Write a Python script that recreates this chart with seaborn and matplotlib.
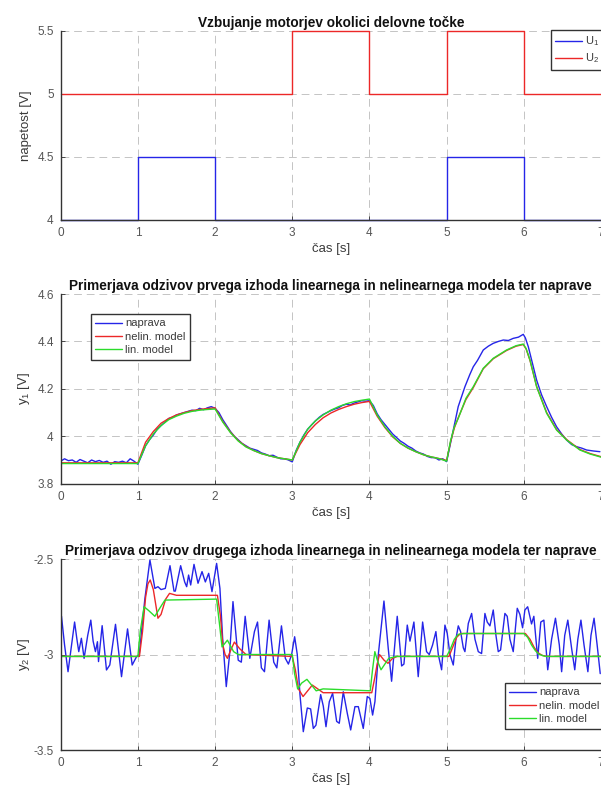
import matplotlib
matplotlib.use("Agg")
import matplotlib.pyplot as plt
import seaborn as sns

# --- data ---
# vhodni napetosti (step signals)
t_u = [0, 1, 1, 2, 2, 3, 3, 4, 4, 5, 5, 6, 6, 7]
u1 = [4, 4, 4.5, 4.5, 4, 4, 4, 4, 4, 4, 4.5, 4.5, 4, 4]
u2 = [5, 5, 5, 5, 5, 5, 5.5, 5.5, 5, 5, 5.5, 5.5, 5, 5]

# izhod y1
y1_naprava = [(0.00, 3.895), (0.05, 3.905), (0.10, 3.897), (0.15, 3.90), (0.20, 3.89), (0.25, 3.902),
              (0.30, 3.895), (0.35, 3.888), (0.40, 3.90), (0.45, 3.893), (0.50, 3.898), (0.55, 3.89),
              (0.60, 3.895), (0.65, 3.882), (0.70, 3.893), (0.75, 3.89), (0.80, 3.895), (0.85, 3.888),
              (0.90, 3.905), (0.95, 3.895), (1.00, 3.882), (1.05, 3.92), (1.10, 3.96), (1.15, 3.985),
              (1.20, 4.005), (1.25, 4.03), (1.30, 4.045), (1.35, 4.06), (1.40, 4.075), (1.45, 4.08),
              (1.50, 4.09), (1.55, 4.095), (1.60, 4.10), (1.65, 4.105), (1.70, 4.11), (1.75, 4.108),
              (1.80, 4.118), (1.85, 4.112), (1.90, 4.12), (1.95, 4.125), (2.00, 4.118), (2.05, 4.10),
              (2.10, 4.07), (2.15, 4.045), (2.20, 4.02), (2.25, 4.00), (2.30, 3.985), (2.35, 3.97),
              (2.40, 3.96), (2.45, 3.95), (2.50, 3.945), (2.55, 3.94), (2.60, 3.93), (2.65, 3.925),
              (2.70, 3.918), (2.75, 3.92), (2.80, 3.912), (2.85, 3.905), (2.90, 3.905), (2.95, 3.90),
              (3.00, 3.892), (3.05, 3.94), (3.10, 3.975), (3.15, 4.005), (3.20, 4.03), (3.25, 4.048),
              (3.30, 4.065), (3.35, 4.08), (3.40, 4.092), (3.45, 4.10), (3.50, 4.108), (3.55, 4.115),
              (3.60, 4.12), (3.65, 4.13), (3.70, 4.135), (3.75, 4.132), (3.80, 4.14), (3.85, 4.145),
              (3.90, 4.15), (3.95, 4.148), (4.00, 4.15), (4.05, 4.13), (4.10, 4.095), (4.15, 4.07),
              (4.20, 4.05), (4.25, 4.03), (4.30, 4.01), (4.35, 3.995), (4.40, 3.98), (4.45, 3.97),
              (4.50, 3.958), (4.55, 3.95), (4.60, 3.938), (4.65, 3.93), (4.70, 3.925), (4.75, 3.915),
              (4.80, 3.91), (4.85, 3.91), (4.90, 3.90), (4.95, 3.905), (5.00, 3.893), (5.05, 3.97),
              (5.086, 4.026), (5.15, 4.125), (5.237, 4.209), (5.30, 4.26), (5.345, 4.293), (5.40, 4.32),
              (5.475, 4.364), (5.54, 4.38), (5.604, 4.392), (5.67, 4.40), (5.734, 4.406), (5.80, 4.404),
              (5.863, 4.413), (5.93, 4.418), (5.993, 4.43), (6.02, 4.415), (6.058, 4.378), (6.11, 4.31),
              (6.166, 4.237), (6.23, 4.175), (6.296, 4.125), (6.36, 4.08), (6.425, 4.04), (6.49, 4.01),
              (6.555, 3.984), (6.62, 3.965), (6.684, 3.956), (6.75, 3.95), (6.814, 3.942), (6.90, 3.938),
              (6.986, 3.935)]
y1_nelin = [(0.0, 3.888), (1.0, 3.888), (1.1, 3.975), (1.2, 4.02), (1.3, 4.055), (1.4, 4.075), (1.5, 4.09),
            (1.6, 4.10), (1.7, 4.108), (1.8, 4.113), (1.9, 4.117), (2.0, 4.12), (2.1, 4.062), (2.2, 4.017),
            (2.3, 3.982), (2.4, 3.957), (2.5, 3.94), (2.6, 3.927), (2.7, 3.918), (2.8, 3.91), (2.9, 3.905),
            (3.0, 3.90), (3.1, 3.965), (3.2, 4.015), (3.3, 4.05), (3.4, 4.078), (3.5, 4.098), (3.6, 4.113),
            (3.7, 4.125), (3.8, 4.135), (3.9, 4.142), (4.0, 4.147), (4.1, 4.085), (4.2, 4.037), (4.3, 3.998),
            (4.4, 3.97), (4.5, 3.95), (4.6, 3.935), (4.7, 3.922), (4.8, 3.913), (4.9, 3.906), (5.0, 3.898),
            (5.05, 3.975), (5.1, 4.035), (5.15, 4.078), (5.25, 4.155), (5.345, 4.205), (5.475, 4.285),
            (5.604, 4.327), (5.777, 4.362), (5.9, 4.38), (5.993, 4.387), (6.03, 4.368), (6.08, 4.32),
            (6.166, 4.21), (6.296, 4.1), (6.425, 4.028), (6.555, 3.986), (6.727, 3.944), (6.86, 3.927),
            (7.0, 3.914)]
y1_lin = [(0.0, 3.885), (1.0, 3.885), (1.1, 3.96), (1.2, 4.01), (1.3, 4.045), (1.4, 4.07), (1.5, 4.085),
          (1.6, 4.097), (1.7, 4.105), (1.8, 4.11), (1.9, 4.113), (2.0, 4.115), (2.1, 4.06), (2.2, 4.015),
          (2.3, 3.98), (2.4, 3.955), (2.5, 3.94), (2.6, 3.927), (2.7, 3.918), (2.8, 3.91), (2.9, 3.905),
          (3.0, 3.90), (3.1, 3.975), (3.2, 4.03), (3.3, 4.065), (3.4, 4.09), (3.5, 4.11), (3.6, 4.125),
          (3.7, 4.137), (3.8, 4.146), (3.9, 4.152), (4.0, 4.157), (4.1, 4.09), (4.2, 4.04), (4.3, 4.0),
          (4.4, 3.97), (4.5, 3.95), (4.6, 3.935), (4.7, 3.922), (4.8, 3.913), (4.9, 3.906), (5.0, 3.895),
          (5.05, 3.98), (5.1, 4.04), (5.15, 4.075), (5.25, 4.16), (5.345, 4.209), (5.475, 4.287),
          (5.604, 4.329), (5.777, 4.364), (5.9, 4.382), (5.993, 4.389), (6.03, 4.37), (6.08, 4.322),
          (6.166, 4.209), (6.296, 4.097), (6.425, 4.026), (6.555, 3.984), (6.727, 3.942), (6.86, 3.925),
          (7.0, 3.912)]

# izhod y2
y2_naprava = [(0.00, -2.81), (0.01, -2.80), (0.05, -2.95), (0.095, -3.09), (0.14, -2.95), (0.18, -2.83),
              (0.21, -2.92), (0.234, -2.985), (0.268, -2.915), (0.303, -3.02), (0.35, -2.90), (0.39, -2.82),
              (0.42, -2.93), (0.45, -2.985), (0.476, -2.933), (0.49, -3.037), (0.537, -2.849), (0.593, -3.081),
              (0.636, -3.055), (0.71, -2.842), (0.75, -2.98), (0.788, -3.116), (0.866, -2.866), (0.926, -3.055),
              (0.983, -3.011), (1.017, -3.0), (1.06, -2.83), (1.09, -2.71), (1.156, -2.505), (1.22, -2.654),
              (1.26, -2.645), (1.30, -2.66), (1.355, -2.654), (1.416, -2.535), (1.468, -2.668), (1.485, -2.668),
              (1.554, -2.535), (1.606, -2.62), (1.632, -2.645), (1.657, -2.584), (1.684, -2.636), (1.727, -2.528),
              (1.779, -2.627), (1.831, -2.566), (1.874, -2.62), (1.917, -2.575), (1.96, -2.671), (2.02, -2.523),
              (2.063, -2.654), (2.098, -2.915), (2.145, -3.168), (2.188, -3.0), (2.232, -2.723), (2.30, -3.03),
              (2.34, -3.04), (2.39, -2.80), (2.45, -3.02), (2.51, -2.88), (2.55, -2.83), (2.60, -3.07),
              (2.64, -3.09), (2.70, -2.82), (2.76, -3.04), (2.80, -3.07), (2.86, -2.85), (2.91, -3.02),
              (2.95, -3.05), (2.992, -3.0), (3.031, -2.907), (3.065, -3.0), (3.10, -3.21), (3.143, -3.404),
              (3.195, -3.28), (3.238, -3.285), (3.273, -3.387), (3.307, -3.37), (3.368, -3.21), (3.402, -3.27),
              (3.437, -3.378), (3.48, -3.247), (3.523, -3.203), (3.575, -3.35), (3.609, -3.36), (3.661, -3.195),
              (3.713, -3.308), (3.757, -3.395), (3.812, -3.273), (3.856, -3.273), (3.92, -3.387), (3.972, -3.22),
              (4.006, -3.23), (4.041, -3.317), (4.071, -3.247), (4.115, -3.0), (4.188, -2.72), (4.244, -2.97),
              (4.287, -3.14), (4.36, -2.80), (4.417, -3.06), (4.447, -3.05), (4.49, -2.846), (4.525, -2.93),
              (4.576, -2.83), (4.632, -3.116), (4.689, -2.83), (4.74, -2.985), (4.775, -3.0), (4.818, -2.95),
              (4.861, -2.88), (4.892, -3.0), (4.935, -3.08), (4.978, -2.846), (5.008, -2.89), (5.043, -3.0),
              (5.086, -3.055), (5.12, -2.92), (5.151, -2.85), (5.181, -2.88), (5.216, -2.965), (5.237, -2.985),
              (5.281, -2.837), (5.324, -2.785), (5.367, -2.92), (5.41, -2.985), (5.453, -2.995), (5.496, -2.785),
              (5.526, -2.83), (5.561, -2.85), (5.604, -2.767), (5.639, -2.90), (5.669, -2.985), (5.699, -2.976),
              (5.755, -2.785), (5.785, -2.80), (5.82, -2.92), (5.863, -2.985), (5.915, -2.758), (5.949, -2.79),
              (5.984, -2.86), (6.014, -2.767), (6.05, -2.75), (6.10, -2.84), (6.13, -2.80), (6.18, -3.02),
              (6.22, -2.83), (6.26, -2.82), (6.31, -3.08), (6.36, -2.92), (6.41, -2.81), (6.46, -2.95),
              (6.49, -3.09), (6.53, -2.90), (6.57, -2.82), (6.62, -2.97), (6.66, -3.08), (6.70, -2.92),
              (6.74, -2.82), (6.78, -2.95), (6.83, -3.09), (6.87, -2.90), (6.91, -2.81), (6.95, -2.95),
              (6.99, -3.10)]
y2_nelin = [(0.0, -3.01), (1.02, -3.01), (1.06, -2.88), (1.1, -2.7), (1.13, -2.63), (1.16, -2.61), (1.2, -2.66),
            (1.26, -2.81), (1.3, -2.79), (1.36, -2.71), (1.41, -2.68), (1.5, -2.69), (2.03, -2.69), (2.07, -2.8),
            (2.1, -2.95), (2.13, -3.0), (2.16, -3.02), (2.2, -2.98), (2.25, -2.935), (2.32, -2.97), (2.4, -3.0),
            (3.0, -3.01), (3.04, -3.08), (3.08, -3.18), (3.14, -3.22), (3.2, -3.19), (3.26, -3.16), (3.33, -3.18),
            (3.4, -3.2), (4.03, -3.2), (4.07, -3.12), (4.1, -3.05), (4.13, -3.0), (4.19, -3.03), (4.24, -3.046),
            (4.3, -3.02), (4.36, -3.01), (5.03, -3.01), (5.08, -2.96), (5.13, -2.91), (5.18, -2.89), (5.25, -2.89),
            (6.02, -2.89), (6.08, -2.92), (6.13, -2.96), (6.18, -2.99), (6.24, -3.005), (6.3, -3.01), (7.0, -3.01)]
y2_lin = [(0.0, -3.01), (1.0, -3.01), (1.03, -2.88), (1.08, -2.75), (1.14, -2.77), (1.22, -2.80), (1.28, -2.76),
          (1.35, -2.715), (2.02, -2.71), (2.06, -2.85), (2.09, -2.96), (2.16, -2.925), (2.24, -2.985), (2.3, -3.0),
          (3.0, -3.0), (3.03, -3.1), (3.07, -3.18), (3.12, -3.15), (3.19, -3.13), (3.25, -3.16), (3.31, -3.19),
          (3.4, -3.18), (4.01, -3.19), (4.04, -3.08), (4.07, -2.985), (4.11, -3.04), (4.15, -3.08), (4.25, -3.02),
          (4.35, -3.01), (5.0, -3.01), (5.05, -2.97), (5.1, -2.92), (5.15, -2.895), (5.22, -2.89), (6.0, -2.89),
          (6.05, -2.91), (6.1, -2.95), (6.15, -2.98), (6.2, -3.0), (6.28, -3.01), (7.0, -3.01)]

x_ticks = [0, 1, 2, 3, 4, 5, 6, 7]
u_ticks = [4, 4.5, 5, 5.5]
y1_ticks = [3.8, 4, 4.2, 4.4, 4.6]
y2_ticks = [-3.5, -3, -2.5]

BLUE = "#2525e8"
RED = "#ec2828"
GREEN = "#2bdc2b"
TXT = "#3a3a3a"

sns.set_theme(style="whitegrid")
plt.rcParams["font.family"] = ["Liberation Sans", "DejaVu Sans"]
plt.rcParams["mathtext.fontset"] = "custom"
plt.rcParams["mathtext.rm"] = "Liberation Sans"
plt.rcParams["mathtext.it"] = "Liberation Sans"


def style_axes(ax, yticks, ylim, ylabel, title):
    ax.set_xlim(0, 7)
    ax.set_ylim(*ylim)
    ax.set_xticks(x_ticks, [str(v) for v in x_ticks])
    ax.set_yticks(yticks, [("%g" % v) for v in yticks])
    ax.grid(True, color="#c4c4c4", linestyle=(0, (8, 5)), linewidth=0.7)
    ax.set_facecolor("white")
    for side in ["top", "right"]:
        ax.spines[side].set_visible(False)
    for side in ["left", "bottom"]:
        ax.spines[side].set_color("#333333")
        ax.spines[side].set_linewidth(1.0)
    ax.tick_params(direction="in", length=3, width=0.6, colors="#333333",
                   labelsize=8.5, labelcolor="#555555", bottom=True, left=True, pad=5)
    ax.set_xlabel("čas [s]", fontsize=9.5, color=TXT, labelpad=3)
    ax.set_ylabel(ylabel, fontsize=9.5, color=TXT)
    # all y labels sit on the same vertical line, as in the original
    ax.yaxis.set_label_coords(-0.054, 0.5)
    ax.set_title(title, fontsize=9.8, fontweight="bold", color="#111111", pad=3)


def line(ax, data, color, label):
    t, v = zip(*data)
    sns.lineplot(x=list(t), y=list(v), ax=ax, color=color, linewidth=1.0,
                 label=label, estimator=None, sort=False)


fig = plt.figure(figsize=(6.01, 7.87), dpi=100)
ax1 = fig.add_axes([0.101, 0.7208, 0.899, 0.2402])
ax2 = fig.add_axes([0.101, 0.3854, 0.899, 0.2410])
ax3 = fig.add_axes([0.101, 0.0470, 0.899, 0.2427])

# zgoraj: vzbujanje
sns.lineplot(x=t_u, y=u1, ax=ax1, color=BLUE, linewidth=1.0, label="U$_1$",
             estimator=None, sort=False)
sns.lineplot(x=t_u, y=u2, ax=ax1, color=RED, linewidth=1.0, label="U$_2$",
             estimator=None, sort=False)
for ln in ax1.get_lines():
    ln.set_clip_on(False)
style_axes(ax1, u_ticks, (4, 5.5), "napetost [V]", "Vzbujanje motorjev okolici delovne točke")

# sredina: y1
line(ax2, y1_naprava, BLUE, "naprava")
line(ax2, y1_nelin, RED, "nelin. model")
line(ax2, y1_lin, GREEN, "lin. model")
style_axes(ax2, y1_ticks, (3.8, 4.6), "y$_1$ [V]",
           "Primerjava odzivov prvega izhoda linearnega in nelinearnega modela ter naprave")

# spodaj: y2
line(ax3, y2_naprava, BLUE, "naprava")
line(ax3, y2_nelin, RED, "nelin. model")
line(ax3, y2_lin, GREEN, "lin. model")
style_axes(ax3, y2_ticks, (-3.5, -2.5), "y$_2$ [V]",
           "Primerjava odzivov drugega izhoda linearnega in nelinearnega modela ter naprave")

leg_kw = dict(fontsize=8, frameon=True, fancybox=False, shadow=False, framealpha=1,
              edgecolor="#333333", borderpad=0.4, labelspacing=0.3, handlelength=2.4,
              handletextpad=0.3, borderaxespad=0, bbox_transform=fig.transFigure, loc="upper left")
for ax, anchor in [(ax1, (551 / 601, 1 - 30 / 787)),
                   (ax2, (91 / 601, 1 - 314 / 787)),
                   (ax3, (505 / 601, 1 - 683 / 787))]:
    leg = ax.legend(bbox_to_anchor=anchor, **leg_kw)
    leg.get_frame().set_linewidth(1.0)
    for txt in leg.get_texts():
        txt.set_color(TXT)

plt.savefig("out.png", dpi=100)
